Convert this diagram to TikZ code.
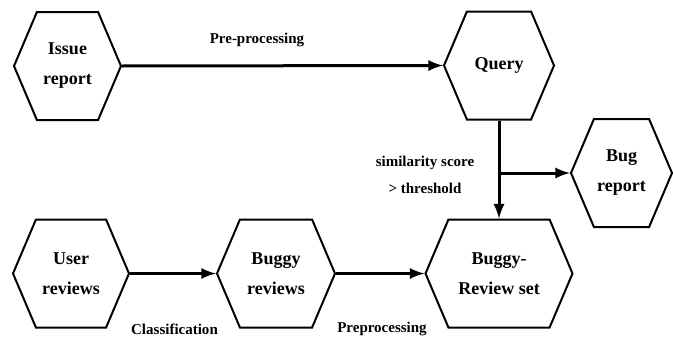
\documentclass[tikz,border=0pt]{standalone}
\usepackage{fontspec}
\setmainfont{Liberation Serif}
\usetikzlibrary{%
  arrows,%
  shapes.symbols,% wg. signal
  calc%
}

\tikzset{
  hexbox/.style={shape=signal, signal to=east and west, signal pointer angle=134,
    draw=black, line width=1pt, inner sep=0pt, align=center,
    minimum height=54pt, font=\fontsize{9}{15}\selectfont\bfseries},
  flowlabel/.style={font=\fontsize{7.5}{12.5}\selectfont\bfseries, inner sep=0pt, align=center}
}

\begin{document}
\begin{tikzpicture}
  [x=0.5pt, y=-0.5pt, line width=1.5pt, draw=black, >=latex]

\useasboundingbox (0,0) rectangle (673,337);

% hexagons
\node[hexbox, minimum width=53.5pt] (issue) at (67.5,66) {Issue\\report};
\node[hexbox, minimum width=55pt] (query) at (499,65.5) {Query};
\node[hexbox, minimum width=50.5pt] (bug) at (621.5,173) {Bug\\report};
\node[hexbox, minimum width=58pt] (user) at (71,273.5) {User\\reviews};
\node[hexbox, minimum width=59pt] (buggy) at (276,273.5) {Buggy\\reviews};
\node[hexbox, minimum width=73.5pt] (set) at (499,273.5) {Buggy-\\Review set};

% labels
\node[flowlabel] (prelbl) at (257,40) {Pre-processing};
\node[flowlabel] (simlbl) at (425,163) {similarity score};
\node[flowlabel] (thrlbl) at (425,188) {> threshold};
\node[flowlabel] (clslbl) at (174.5,329) {Classification};
\node[flowlabel] (pplbl) at (382,329) {Preprocessing};

% connectors
\coordinate (split) at (query.south |- bug.west);
\draw[->] (issue.east) -- (query.west);
\draw[->] (query.south) -- (set.north);
\draw[->] (split) -- (bug.west);
\draw[->] (user.east) -- (buggy.west);
\draw[->] (buggy.east) -- (set.west);
\end{tikzpicture}
\end{document}
